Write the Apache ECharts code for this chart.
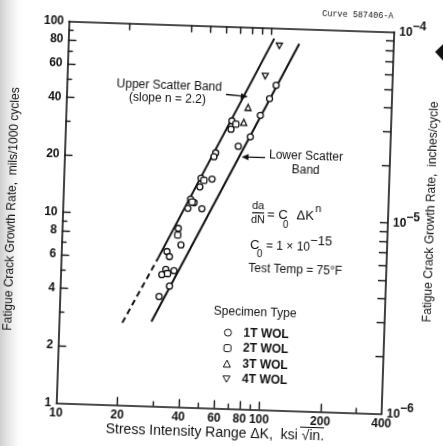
<!DOCTYPE html>
<html>
<head>
<meta charset="utf-8">
<title>Fatigue crack growth</title>
<script src="https://cdn.jsdelivr.net/npm/echarts@6/dist/echarts.min.js"></script>
<style>
html, body { margin: 0; padding: 0; overflow: hidden; }
body { background: linear-gradient(to right, #cfcfcf 0px, #e4e4e4 7px, #fbfbfb 18px, #fff 24px); }
/* the scanned sheet sits a little crooked, so the whole chart is turned with it */
#chart { width: 443px; height: 446px; transform: rotate(1.9deg); transform-origin: 225.75px 217.5px; }
</style>
</head>
<body>
<div id="chart"></div>
<script>
// points: [delta K (ksi sqrt in), da/dN (mils/1000 cycles)]
var wol1T = [[107.1, 50.2], [99.9, 42.6], [90.6, 34.7], [65.8, 32.1], [65.3, 29.0], [81.5, 26.7],
    [71.4, 23.7], [55.4, 21.7], [54.4, 20.7], [47.4, 15.9], [53.7, 15.8], [46.9, 14.3], [42.4, 12.3],
    [44.2, 11.8], [41.3, 11.0], [48.4, 11.0], [37.3, 8.6], [38.7, 7.06], [33.1, 6.48], [34.1, 6.10],
    [32.9, 5.22], [31.5, 4.90], [36.1, 5.16], [34.5, 4.28], [30.8, 3.76]];
var wol2T = [[68.9, 30.9], [49.0, 15.5], [43.2, 11.9], [37.2, 7.95], [33.6, 4.97]];
var wol3T = [[78.6, 38.0], [75.3, 31.7]];
var wol4T = [[109.4, 80.8], [94.3, 55.8]];

// scatter band lines (end points)
var upperBand = [[30.1, 6.0], [103, 88]];
var upperBandExt = [[20.5, 2.7], [30.1, 6.0]];
var lowerBand = [[28.5, 2.77], [137, 83.5]];

var specimenNames = ['1T WOL', '2T WOL', '3T WOL', '4T WOL'];

// axis ticks and labels
var xLabelValues = [10, 20, 40, 60, 80, 100, 200, 400];
var xMajorTicks = [20, 40, 60, 80, 100, 200];
var xMinorTicks = [30, 50, 70, 90, 300];
var xTopTicks = [20, 40, 50, 60, 70, 80, 90, 100];
var yLabelValues = [1, 2, 4, 6, 8, 10, 20, 40, 60, 80, 100];
var yMajorTicks = [2, 4, 6, 8, 10, 20, 40, 60, 80];
var yMinorTicks = [3, 5, 7, 9, 30, 50, 70, 90];
var yRightTicks = [2, 3, 4, 5, 6, 7, 8, 9, 10, 20, 30, 40, 50, 60, 70, 80, 90];
var yRightLabels = [1, 10, 100];

var INK = '#111';
var LABEL_FONT = "'Liberation Sans', sans-serif";
var TEXT_FONT = "'Liberation Sans', sans-serif";

var chart = echarts.init(document.getElementById('chart'), null, { renderer: 'canvas' });

function tickAxis(pos, min, max, ticks, len, showLine) {
    return {
        type: 'log', logBase: 10, min: min, max: max, position: pos,
        axisLine: { show: showLine, lineStyle: { color: INK, width: 1.6 } },
        axisTick: { show: true, inside: true, length: len, customValues: ticks, lineStyle: { color: INK, width: 1.4 } },
        axisLabel: { show: false },
        splitLine: { show: false },
        minorTick: { show: false }
    };
}

var xMain = tickAxis('bottom', 10, 400, xMajorTicks, 8, true);
xMain.axisLabel = {
    show: true, customValues: xLabelValues, margin: 4,
    color: INK, fontFamily: LABEL_FONT, fontWeight: 'bold', fontSize: 12,
    formatter: function (v) { return String(Math.round(v)); }
};
var yMain = tickAxis('left', 1, 100, yMajorTicks, 8, true);
yMain.axisLabel = {
    show: true, customValues: yLabelValues, margin: 5,
    color: INK, fontFamily: LABEL_FONT, fontWeight: 'bold', fontSize: 12,
    formatter: function (v) { return String(Math.round(v)); }
};
var yRight = tickAxis('right', 1, 100, yRightTicks, 8, true);
yRight.axisLabel = {
    show: true, customValues: yRightLabels, margin: 5,
    color: INK, fontFamily: LABEL_FONT,
    formatter: function (v) {
        var e = Math.round(Math.log(v) / Math.LN10) - 6;
        return '{b|10}{s|\u2212' + Math.abs(e) + '}';
    },
    rich: {
        b: { fontSize: 12, lineHeight: 24, fontFamily: LABEL_FONT, fontWeight: 'bold', color: INK },
        s: { fontSize: 12, lineHeight: 10, verticalAlign: 'top', fontFamily: LABEL_FONT, fontWeight: 'bold', color: INK }
    }
};

function lineSeries(data, dashed) {
    return {
        type: 'line', data: data, xAxisIndex: 0, yAxisIndex: 0, symbol: 'none', silent: true,
        lineStyle: { color: INK, width: 2, type: dashed ? [6, 4] : 'solid' }, z: 2
    };
}
function pointSeries(name, data, symbol) {
    return {
        type: 'scatter', name: name, data: data, xAxisIndex: 0, yAxisIndex: 0,
        symbol: symbol, symbolSize: 6, symbolKeepAspect: true,
        itemStyle: { color: '#fff', borderColor: INK, borderWidth: 1.3, opacity: 1 }, z: 3
    };
}

function txt(x, y, text, size, opts) {
    opts = opts || {};
    return {
        type: 'text', x: x, y: y, rotation: opts.rotation || 0, silent: true,
        style: {
            text: text, fill: INK, fontFamily: opts.family || TEXT_FONT, fontSize: size,
            fontWeight: opts.weight || 'normal',
            align: opts.align || 'left', verticalAlign: 'middle'
        }
    };
}

var graphics = [
    txt(351, 10.5, 'Curve 587406-A', 8.5, { family: "'Liberation Mono', monospace", align: 'center' }),
    txt(12, 216, 'Fatigue Crack Growth Rate,  mils/1000 cycles', 12, { align: 'center', rotation: Math.PI / 2 }),
    txt(431, 205, 'Fatigue Crack Growth Rate,  inches/cycle', 12, { align: 'center', rotation: Math.PI / 2 }),
    txt(222, 433.5, 'Stress Intensity Range \u0394K,  ksi \u221Ain.', 14, { align: 'center' }),
    txt(165, 88, 'Upper Scatter Band', 12, { align: 'center' }),
    txt(163.5, 101, '(slope n = 2.2)', 12, { align: 'center' }),
    txt(304, 153.3, 'Lower Scatter', 12, { align: 'center' }),
    txt(304, 168, 'Band', 12, { align: 'center' }),
    txt(257.8, 205, 'da', 11, { align: 'center' }),
    txt(258, 219, 'dN', 11, { align: 'center' }),
    txt(267, 213.5, '= C', 13),
    txt(283, 223, '0', 10),
    txt(296.5, 213.5, '\u0394K', 13),
    txt(315, 206, 'n', 11),
    txt(251, 244.5, 'C', 13),
    txt(258, 253, '0', 10),
    txt(267, 244.5, '= 1 \u00D7 10', 12),
    txt(311, 238.5, '\u221215', 13),
    txt(250, 268, 'Test Temp = 75\u00B0F', 12),
    txt(258.2, 311.7, 'Specimen Type', 12, { align: 'center' }),
    // fraction bar of da/dN
    { type: 'line', silent: true, shape: { x1: 252, y1: 211.8, x2: 264, y2: 211.8 }, style: { stroke: INK, lineWidth: 1.2 } },
    // overline of the root sign
    { type: 'line', silent: true, shape: { x1: 307, y1: 424.5, x2: 331, y2: 424.5 }, style: { stroke: INK, lineWidth: 1 } },
    // arrows to the bands
    { type: 'line', silent: true, shape: { x1: 222, y1: 94.5, x2: 238, y2: 95.6 }, style: { stroke: INK, lineWidth: 1.3 } },
    { type: 'polygon', silent: true, shape: { points: [[244, 96], [237, 92.8], [236.6, 98.8]] }, style: { fill: INK } },
    { type: 'line', silent: true, shape: { x1: 263, y1: 156.4, x2: 245, y2: 156.4 }, style: { stroke: INK, lineWidth: 1.3 } },
    { type: 'polygon', silent: true, shape: { points: [[239.5, 156.4], [246.5, 153.3], [246.5, 159.5]] }, style: { fill: INK } },
    // black mark on the sheet edge
    { type: 'polygon', silent: true, shape: { points: [[429.5, 45], [443, 31], [456, 45], [443, 59]] }, style: { fill: '#111' } }
];

var option = {
    animation: false,
    backgroundColor: 'transparent',
    grid: { left: 62.5, right: 55, top: 26.5, bottom: 37.5, containLabel: false },
    xAxis: [xMain, tickAxis('bottom', 10, 400, xMinorTicks, 5, false), tickAxis('top', 10, 400, xTopTicks, 7, true)],
    yAxis: [yMain, tickAxis('left', 1, 100, yMinorTicks, 5, false), yRight],
    legend: {
        data: specimenNames, orient: 'vertical', left: 227.8, top: 325.5,
        itemWidth: 7, itemHeight: 7, itemGap: 1.5, padding: 0,
        selectedMode: false,
        itemStyle: { color: '#fff', borderColor: INK, borderWidth: 1 },
        textStyle: { color: INK, fontFamily: TEXT_FONT, fontWeight: 'bold', fontSize: 12, lineHeight: 14, padding: [0, 0, 0, 7] }
    },
    series: [
        lineSeries(upperBand, false),
        lineSeries(upperBandExt, true),
        lineSeries(lowerBand, false),
        pointSeries(specimenNames[0], wol1T, 'circle'),
        pointSeries(specimenNames[1], wol2T, 'roundRect'),
        pointSeries(specimenNames[2], wol3T, 'triangle'),
        pointSeries(specimenNames[3], wol4T, 'path://M0,0L10,0L5,9Z')
    ],
    graphic: graphics
};

chart.setOption(option);
</script>
</body>
</html>
